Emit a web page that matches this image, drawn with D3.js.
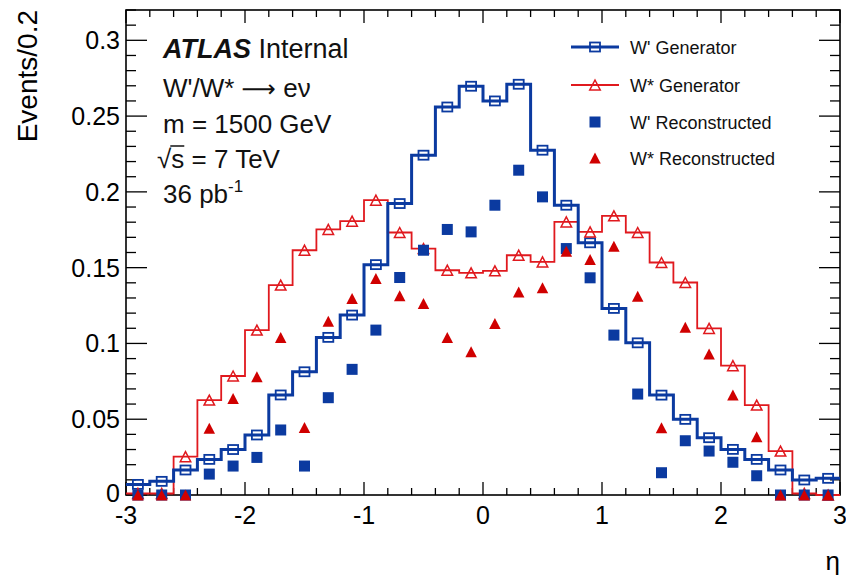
<!DOCTYPE html>
<html>
<head>
<meta charset="utf-8">
<script src="https://cdn.jsdelivr.net/npm/d3@7"></script>
<style>
  html, body { margin: 0; padding: 0; background: #fff; }
  svg { display: block; font-family: "Liberation Sans", Arial, Helvetica, sans-serif; }
</style>
</head>
<body>
<svg id="chart" width="846" height="576"></svg>
<script>
// Pseudorapidity bins (width 0.2) from -3 to 3: lower edges
const binLowEdges = [-3.0, -2.8, -2.6, -2.4, -2.2, -2.0, -1.8, -1.6, -1.4, -1.2,
                     -1.0, -0.8, -0.6, -0.4, -0.2, 0.0, 0.2, 0.4, 0.6, 0.8,
                     1.0, 1.2, 1.4, 1.6, 1.8, 2.0, 2.2, 2.4, 2.6, 2.8];
const binWidth = 0.2;

// Normalised event fractions per bin
const wPrimeGen = [0.007, 0.009, 0.0165, 0.0235, 0.030, 0.0396, 0.066, 0.0813, 0.104, 0.1187,
                   0.152, 0.1923, 0.2242, 0.256, 0.2697, 0.260, 0.271, 0.2275, 0.1912, 0.1664,
                   0.1231, 0.1004, 0.0659, 0.0499, 0.0378, 0.0301, 0.0235, 0.0165, 0.0099, 0.011];
const wStarGen = [0.001, 0.001, 0.0253, 0.0626, 0.0785, 0.1088, 0.1385, 0.1615, 0.1752, 0.1807,
                  0.1945, 0.1732, 0.1626, 0.1483, 0.1466, 0.1479, 0.1582, 0.1538, 0.1802, 0.1736,
                  0.1842, 0.1732, 0.1534, 0.1402, 0.1099, 0.0853, 0.0593, 0.029, 0.001, 0.0];
const wPrimeReco = [0, 0, 0, 0.0138, 0.0191, 0.0248, 0.0429, 0.0191, 0.0642, 0.0829,
                    0.1088, 0.1435, 0.1615, 0.1752, 0.1736, 0.1912, 0.2143, 0.1967, 0.1626, 0.1433,
                    0.1055, 0.0666, 0.0147, 0.0358, 0.029, 0.0216, 0.0127, 0, 0, 0];
const wStarReco = [0, 0, 0, 0.044, 0.0637, 0.078, 0.104, 0.0446, 0.1147, 0.1297,
                   0.1429, 0.1314, 0.1264, 0.104, 0.0945, 0.1132, 0.134, 0.1367, 0.1609, 0.1554,
                   0.1642, 0.1312, 0.0444, 0.1106, 0.093, 0.0659, 0.0385, 0, 0, 0];

// Axis tick labels
const xTickValues = [-3, -2, -1, 0, 1, 2, 3];
const yTickValues = [0, 0.05, 0.1, 0.15, 0.2, 0.25, 0.3];
const yTickLabels = ["0", "0.05", "0.1", "0.15", "0.2", "0.25", "0.3"];

const legendLabels = ["W' Generator", "W* Generator", "W' Reconstructed", "W* Reconstructed"];

const BLUE = "#0b3aa0";
const RED = "#e0191e";
const RED_FILL = "#d00000";

const svg = d3.select("#chart");
const frame = { left: 126, right: 840, top: 10, bottom: 495 };

const x = d3.scaleLinear().domain([-3, 3]).range([frame.left, frame.right]);
const y = d3.scaleLinear().domain([0, 0.32]).range([frame.bottom, frame.top]);

const centres = binLowEdges.map(e => +(e + binWidth / 2).toFixed(2));

// ---- Axes: ticks on all four sides (ROOT style) ----
const gAxes = svg.append("g");
const minorX = d3.range(-3, 3.0001, 0.2).map(v => +v.toFixed(2));
const minorY = d3.range(0, 0.3201, 0.01).map(v => +v.toFixed(3));
const isMajorX = v => Math.abs(v - Math.round(v)) < 1e-6;
const isMajorY = v => Math.abs(v / 0.05 - Math.round(v / 0.05)) < 1e-6;

minorX.forEach(v => {
  const len = isMajorX(v) ? 13 : 7;
  const px = x(v);
  gAxes.append("line").attr("x1", px).attr("x2", px)
    .attr("y1", frame.bottom).attr("y2", frame.bottom - len)
    .attr("stroke", "#000").attr("stroke-width", 1.3);
  gAxes.append("line").attr("x1", px).attr("x2", px)
    .attr("y1", frame.top).attr("y2", frame.top + len)
    .attr("stroke", "#000").attr("stroke-width", 1.3);
});
minorY.forEach(v => {
  const len = isMajorY(v) ? 21 : 10;
  const py = y(v);
  gAxes.append("line").attr("x1", frame.left).attr("x2", frame.left + len)
    .attr("y1", py).attr("y2", py)
    .attr("stroke", "#000").attr("stroke-width", 1.3);
  gAxes.append("line").attr("x1", frame.right).attr("x2", frame.right - len)
    .attr("y1", py).attr("y2", py)
    .attr("stroke", "#000").attr("stroke-width", 1.3);
});

gAxes.append("rect")
  .attr("x", frame.left).attr("y", frame.top)
  .attr("width", frame.right - frame.left).attr("height", frame.bottom - frame.top)
  .attr("fill", "none").attr("stroke", "#000").attr("stroke-width", 1.6);

// Tick labels
gAxes.selectAll("text.xt").data(xTickValues).join("text")
  .attr("class", "xt")
  .attr("x", d => x(d)).attr("y", 524)
  .attr("text-anchor", "middle")
  .attr("font-size", 25)
  .text(d => d);

gAxes.selectAll("text.yt").data(yTickValues).join("text")
  .attr("class", "yt")
  .attr("x", 120).attr("y", d => y(d) - (d === 0 ? 2 : 0))
  .attr("dy", "0.36em")
  .attr("text-anchor", "end")
  .attr("font-size", 25)
  .text((d, i) => yTickLabels[i]);

// Axis titles
svg.append("text")
  .attr("transform", "translate(37,10) rotate(-90)")
  .attr("text-anchor", "end")
  .attr("font-size", 28)
  .text("Events/0.2");

svg.append("text")
  .attr("x", 840).attr("y", 570)
  .attr("text-anchor", "end")
  .attr("font-size", 26)
  .text("η");

// ---- Histograms (step lines) ----
function stepData(values) {
  const pts = binLowEdges.map((e, i) => ({ xv: e, v: values[i] }));
  pts.push({ xv: 3, v: values[values.length - 1] });
  return pts;
}
const stepLine = d3.line().x(d => x(d.xv)).y(d => y(d.v)).curve(d3.curveStepAfter);

const gPlot = svg.append("g");
gPlot.append("path").datum(stepData(wStarGen))
  .attr("d", stepLine).attr("fill", "none")
  .attr("stroke", RED).attr("stroke-width", 1.8);
gPlot.append("path").datum(stepData(wPrimeGen))
  .attr("d", stepLine).attr("fill", "none")
  .attr("stroke", BLUE).attr("stroke-width", 3);

// Marker helpers
const triPath = (cx, cy, w, h) =>
  `M${cx - w / 2},${cy + h / 2}L${cx + w / 2},${cy + h / 2}L${cx},${cy - h / 2}Z`;

function openSquare(g, cx, cy) {
  g.append("rect").attr("x", cx - 5).attr("y", cy - 4.5)
    .attr("width", 10).attr("height", 9)
    .attr("fill", "none").attr("stroke", BLUE).attr("stroke-width", 1.8);
}
function openTriangle(g, cx, cy) {
  g.append("path").attr("d", triPath(cx, cy, 10.5, 10))
    .attr("fill", "none").attr("stroke", RED).attr("stroke-width", 1.5)
    .attr("stroke-linejoin", "miter");
}
function fullSquare(g, cx, cy) {
  g.append("rect").attr("x", cx - 5.5).attr("y", cy - 5.5)
    .attr("width", 11).attr("height", 11).attr("fill", BLUE);
}
function fullTriangle(g, cx, cy) {
  g.append("path").attr("d", triPath(cx, cy, 11.5, 11)).attr("fill", RED_FILL);
}

centres.forEach((c, i) => openSquare(gPlot, x(c), y(wPrimeGen[i])));
centres.forEach((c, i) => openTriangle(gPlot, x(c), y(wStarGen[i])));
centres.forEach((c, i) => fullSquare(gPlot, x(c), y(wPrimeReco[i])));
centres.forEach((c, i) => fullTriangle(gPlot, x(c), y(wStarReco[i])));

// ---- Legend ----
const gLeg = svg.append("g");
const legY = [47, 85, 122, 158];
const legMarkX = 595;
gLeg.append("line").attr("x1", 571).attr("x2", 619).attr("y1", legY[0]).attr("y2", legY[0])
  .attr("stroke", BLUE).attr("stroke-width", 3);
openSquare(gLeg, legMarkX, legY[0]);
gLeg.append("line").attr("x1", 571).attr("x2", 619).attr("y1", legY[1]).attr("y2", legY[1])
  .attr("stroke", RED).attr("stroke-width", 1.8);
openTriangle(gLeg, legMarkX, legY[1]);
fullSquare(gLeg, legMarkX, legY[2]);
fullTriangle(gLeg, legMarkX, legY[3]);

gLeg.selectAll("text").data(legendLabels).join("text")
  .attr("x", 630).attr("y", (d, i) => legY[i] + 7)
  .attr("font-size", 18)
  .attr("fill", "#111")
  .text(d => d);

// ---- Physics labels ----
const gLab = svg.append("g").attr("font-size", 26).attr("fill", "#111");
const atlas = gLab.append("text").attr("x", 163).attr("y", 58).attr("font-size", 27);
atlas.append("tspan").attr("font-weight", "bold").attr("font-style", "italic").text("ATLAS");
atlas.append("tspan").text(" Internal");

const decay = gLab.append("text").attr("x", 163).attr("y", 97);
decay.append("tspan").text("W'/W* ");
decay.append("tspan").attr("font-family", "DejaVu Sans").attr("font-size", 24).text("\u27f6");
decay.append("tspan").text(" e\u03bd");

gLab.append("text").attr("x", 163).attr("y", 133).text("m = 1500 GeV");

const sq = gLab.append("text").attr("x", 157).attr("y", 168);
const rad = sq.append("tspan").text("\u221a");
sq.append("tspan").text("s = 7 TeV");
// bar over the "s" under the radical
const radW = rad.node().getComputedTextLength();
gLab.append("line")
  .attr("x1", 157 + radW - 1).attr("x2", 157 + radW + 13)
  .attr("y1", 146).attr("y2", 146)
  .attr("stroke", "#111").attr("stroke-width", 1.5);

const lumi = gLab.append("text").attr("x", 163).attr("y", 203);
lumi.append("tspan").text("36 pb");
lumi.append("tspan").attr("font-size", 17).attr("dy", -11).text("-1");
</script>
</body>
</html>
